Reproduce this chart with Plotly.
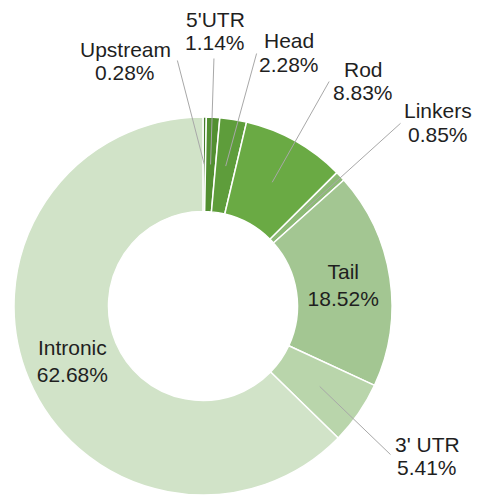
import math
import plotly.graph_objects as go

# ---- data ----
labels = ["Upstream", "5'UTR", "Head", "Rod", "Linkers", "Tail", "3' UTR", "Intronic"]
values = [0.28, 1.14, 2.28, 8.83, 0.85, 18.52, 5.41, 62.68]

# ---- style ----
colors = ["#447f2a", "#528f31", "#5e9d3b", "#6aaa44", "#8dba76",
          "#a3c692", "#b9d5ab", "#d1e3c8"]
inside_labels = {"Tail", "Intronic"}

W, H = 478, 496
CX, CY, R = 203, 306, 189
HOLE = 0.5
FONT = "Liberation Sans, Arial, sans-serif"
FS = 21
TXT = "#1f1f1f"

# outside label layout: text center x, baseline of line 1, baseline of line 2, leader start
label_layout = {
    "Upstream": (125, 57, 80, (177, 59)),
    "5'UTR": (215, 27, 50, (214, 57)),
    "Head": (289, 48, 72, (257, 52)),
    "Rod": (363, 77, 100, (330, 80)),
    "Linkers": (438, 118, 142, (402, 122)),
    "3' UTR": (427, 452, 475, (392, 456)),
}

total = sum(values)
texts = [f"{l}<br>{v:.2f}%" if l in inside_labels else "" for l, v in zip(labels, values)]

fig = go.Figure(go.Pie(
    labels=labels,
    values=values,
    sort=False,
    direction="clockwise",
    rotation=0,
    hole=HOLE,
    marker=dict(colors=colors, line=dict(color="white", width=1.5)),
    text=texts,
    textinfo="text",
    textposition="inside",
    insidetextorientation="horizontal",
    textfont=dict(family=FONT, size=FS, color=TXT),
    domain=dict(x=[(CX - R) / W, (CX + R) / W],
                y=[1 - (CY + R) / H, 1 - (CY - R) / H]),
    showlegend=False,
    hoverinfo="label+percent",
))

annotations = []
cum = 0.0
r_tip = R * (1 + HOLE) / 2
for lab, v in zip(labels, values):
    mid = (cum + v / 2) / total * 2 * math.pi
    cum += v
    if lab not in label_layout:
        continue
    tx, b1, b2, (sx, sy) = label_layout[lab]
    px = CX + r_tip * math.sin(mid)
    py = CY - r_tip * math.cos(mid)
    # leader line
    annotations.append(dict(
        x=px / W, y=1 - py / H, xref="paper", yref="paper",
        text="", showarrow=True, arrowhead=0, arrowwidth=1,
        arrowcolor="#a8a8a8", ax=sx - px, ay=sy - py, standoff=0, startstandoff=0,
    ))
    for line, b in ((lab, b1), (f"{v:.2f}%", b2)):
        annotations.append(dict(
            x=tx / W, y=1 - (b - 0.36 * FS) / H, xref="paper", yref="paper",
            text=line, showarrow=False, xanchor="center", yanchor="middle",
            font=dict(family=FONT, size=FS, color=TXT),
        ))

fig.update_layout(
    width=W, height=H,
    margin=dict(l=0, r=0, t=0, b=0),
    paper_bgcolor="white", plot_bgcolor="white",
    annotations=annotations,
)

fig.write_html("out.html",
               config={"displayModeBar": False},
               post_script="document.body.style.margin='0';document.body.style.overflow='hidden';")
